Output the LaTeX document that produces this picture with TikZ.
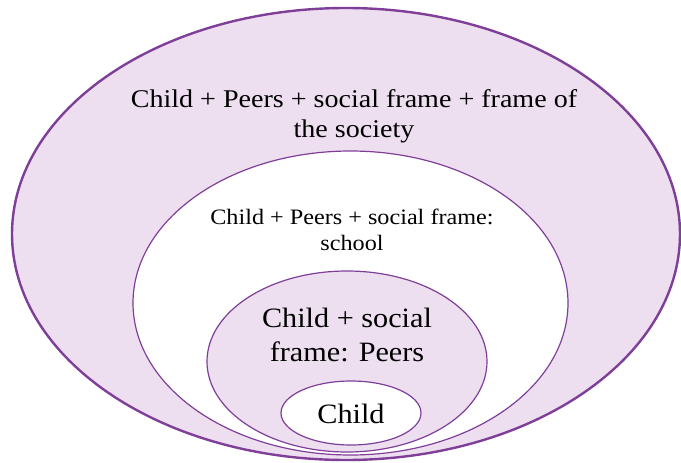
\documentclass[tikz,border=0pt]{standalone}
\usepackage{fontspec}
\setmainfont{Liberation Serif}
\newfontfamily\wideA[FakeStretch=1.1]{Liberation Serif}
\newfontfamily\wideB[FakeStretch=1.08]{Liberation Serif}
\usetikzlibrary{shapes.geometric}
\definecolor{ringfill}{HTML}{EDDFF0}
\definecolor{ringline}{HTML}{7F3F98}
\tikzset{
  ring/.style={ellipse, draw=ringline, inner sep=0pt, outer sep=0pt},
  lbl/.style={align=center, text=black, inner sep=0pt}
}
\begin{document}
\begin{tikzpicture}[x=1pt,y=-1pt]
\useasboundingbox (0,0) rectangle (681,463);
\node[ring, fill=ringfill, line width=2.4pt, minimum width=668pt, minimum height=452pt] (society) at (346,234) {};
\node[ring, fill=white, line width=1.2pt, minimum width=435pt, minimum height=304pt] (school) at (350.5,303) {};
\node[ring, fill=ringfill, line width=1.2pt, minimum width=280pt, minimum height=181pt] (peers) at (347,361.5) {};
\node[ring, fill=white, line width=1.2pt, minimum width=140pt, minimum height=64pt] (child) at (351,413) {};
\node[lbl, font=\wideA\fontsize{25.5}{30}\selectfont] (t1) at (354,116.5) {Child + Peers + social frame + frame of\\the society};
\node[lbl, font=\wideA\fontsize{22}{26}\selectfont] (t2) at (352,230) {Child + Peers + social frame:\\school};
\node[lbl, font=\wideB\fontsize{28}{34}\selectfont] (t3) at (347,335) {Child + social\\frame: Peers};
\node[lbl, font=\wideB\fontsize{28}{34}\selectfont] (t4) at (351,414) {Child};
\end{tikzpicture}
\end{document}
